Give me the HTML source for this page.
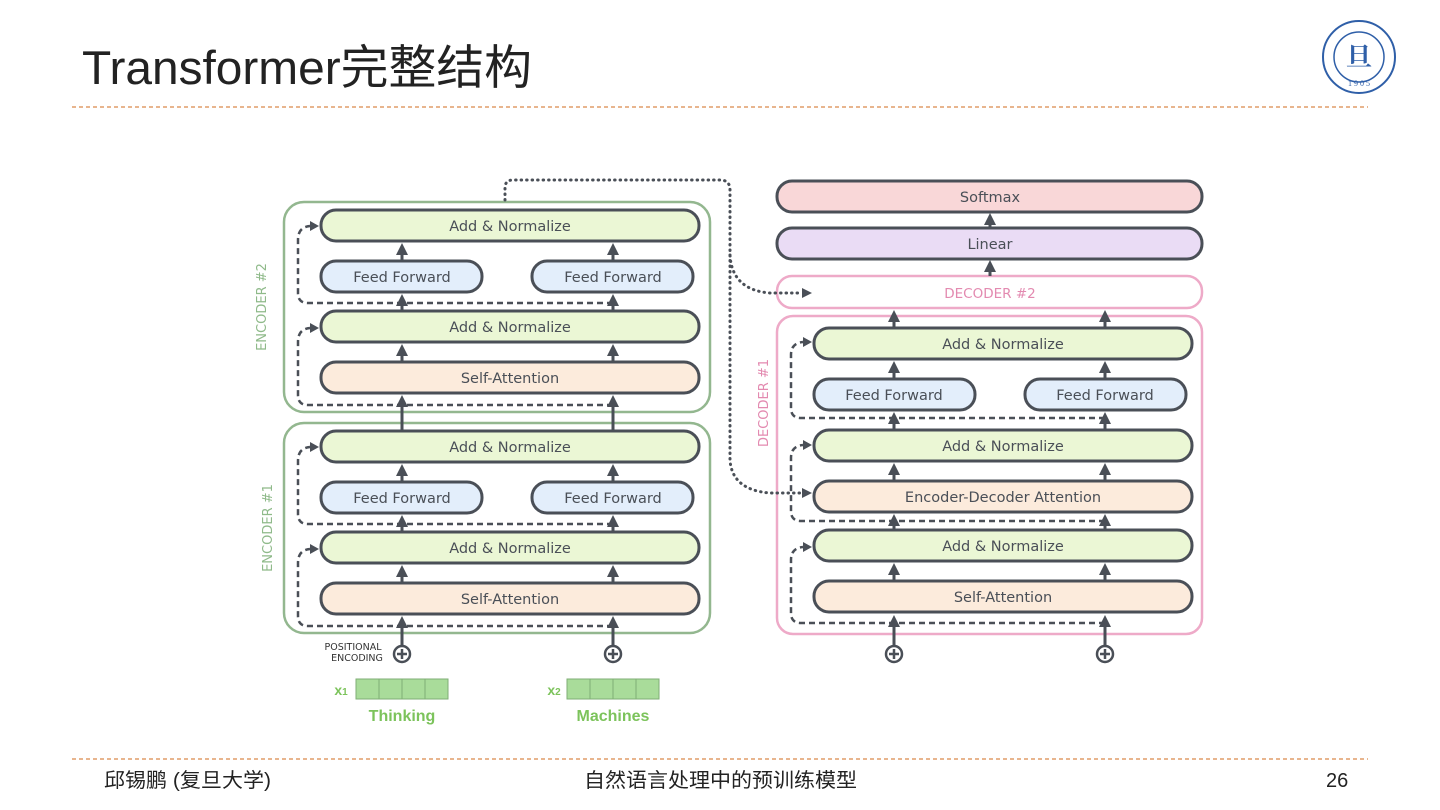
<!DOCTYPE html>
<html><head><meta charset="utf-8"><style>
html,body{margin:0;padding:0;background:#fff}
svg{display:block}
</style></head><body>
<svg width="1440" height="810" viewBox="0 0 1440 810" xmlns="http://www.w3.org/2000/svg">
<defs>
<marker id="ah" markerUnits="userSpaceOnUse" markerWidth="12" markerHeight="12" refX="6" refY="6" orient="auto">
<path d="M0,0 L12,6 L0,12 Z" fill="#4a4f57"/>
</marker>
</defs>
<text x="82" y="84" font-family="Liberation Sans, Noto Sans CJK SC, sans-serif" font-size="47" fill="#222" textLength="450" lengthAdjust="spacingAndGlyphs">Transformer完整结构</text>
<line x1="72" y1="107" x2="1368" y2="107" stroke="#d9894a" stroke-width="1.2" stroke-dasharray="4,3"/>
<line x1="72" y1="759" x2="1368" y2="759" stroke="#d9894a" stroke-width="1.2" stroke-dasharray="4,3"/>
<g font-family="Liberation Sans, Noto Sans CJK SC, sans-serif" font-size="20" fill="#222">
<text x="104" y="787" textLength="167" lengthAdjust="spacingAndGlyphs">邱锡鹏 (复旦大学)</text>
<text x="584" y="787" textLength="273" lengthAdjust="spacingAndGlyphs">自然语言处理中的预训练模型</text>
<text x="1326" y="787">26</text>
</g>
<!-- logo -->
<g fill="none" stroke="#2f5fa8">
<circle cx="1359" cy="57" r="36" stroke-width="2"/>
<circle cx="1359" cy="57" r="25" stroke-width="1.5"/>
</g>
<text x="1359" y="66" text-anchor="middle" font-family="Noto Serif CJK SC, serif" font-size="26" fill="#2f5fa8" font-weight="bold">旦</text>
<text x="1359" y="86" text-anchor="middle" font-family="Liberation Serif, serif" font-size="8" fill="#2f5fa8">1 9 0 5</text>

<g font-family="DejaVu Sans, Liberation Sans, sans-serif" font-size="14.5" fill="#4a4f57" text-anchor="middle">
<rect x="284" y="202" width="426" height="210" rx="20" fill="none" stroke="#93b78f" stroke-width="2.5"/>
<rect x="284" y="423" width="426" height="210" rx="20" fill="none" stroke="#93b78f" stroke-width="2.5"/>
<text transform="translate(266,307) rotate(-90)" fill="#8fba8a" font-size="13">ENCODER #2</text>
<text transform="translate(272,528) rotate(-90)" fill="#8fba8a" font-size="13">ENCODER #1</text>
<g stroke="#4a4f57" stroke-width="3">
<rect x="321" y="210" width="378" height="31" rx="15" fill="#ebf7d5"/>
<rect x="321" y="261" width="161" height="31" rx="15" fill="#e3eefb"/>
<rect x="532" y="261" width="161" height="31" rx="15" fill="#e3eefb"/>
<rect x="321" y="311" width="378" height="31" rx="15" fill="#ebf7d5"/>
<rect x="321" y="362" width="378" height="31" rx="15" fill="#fcebdc"/>
<rect x="321" y="431" width="378" height="31" rx="15" fill="#ebf7d5"/>
<rect x="321" y="482" width="161" height="31" rx="15" fill="#e3eefb"/>
<rect x="532" y="482" width="161" height="31" rx="15" fill="#e3eefb"/>
<rect x="321" y="532" width="378" height="31" rx="15" fill="#ebf7d5"/>
<rect x="321" y="583" width="378" height="31" rx="15" fill="#fcebdc"/>
</g>
<text x="510" y="231">Add &amp; Normalize</text>
<text x="402" y="282">Feed Forward</text>
<text x="613" y="282">Feed Forward</text>
<text x="510" y="332">Add &amp; Normalize</text>
<text x="510" y="383">Self-Attention</text>
<text x="510" y="452">Add &amp; Normalize</text>
<text x="402" y="503">Feed Forward</text>
<text x="613" y="503">Feed Forward</text>
<text x="510" y="553">Add &amp; Normalize</text>
<text x="510" y="604">Self-Attention</text>
<g stroke="#4a4f57" stroke-width="3" marker-end="url(#ah)">
<line x1="402" y1="261" x2="402" y2="249"/><line x1="613" y1="261" x2="613" y2="249"/>
<line x1="402" y1="311" x2="402" y2="300"/><line x1="613" y1="311" x2="613" y2="300"/>
<line x1="402" y1="362" x2="402" y2="350"/><line x1="613" y1="362" x2="613" y2="350"/>
<line x1="402" y1="431" x2="402" y2="401"/><line x1="613" y1="431" x2="613" y2="401"/>
<line x1="402" y1="482" x2="402" y2="470"/><line x1="613" y1="482" x2="613" y2="470"/>
<line x1="402" y1="532" x2="402" y2="521"/><line x1="613" y1="532" x2="613" y2="521"/>
<line x1="402" y1="583" x2="402" y2="571"/><line x1="613" y1="583" x2="613" y2="571"/>
<line x1="402" y1="645" x2="402" y2="622"/><line x1="613" y1="645" x2="613" y2="622"/>
</g>
<g stroke="#4a4f57" stroke-width="2.5" fill="none" stroke-dasharray="6,4">
<path d="M613,303 H308 Q298,303 298,293 V240 Q298,227 310,226"/>
<path d="M613,405 H308 Q298,405 298,395 V342 Q298,329 310,328"/>
<path d="M613,524 H308 Q298,524 298,514 V461 Q298,448 310,447"/>
<path d="M613,626 H308 Q298,626 298,616 V563 Q298,550 310,549"/>
</g>
<g fill="#4a4f57">
<path d="M319,226 l-9,-5 v10z"/><path d="M319,328 l-9,-5 v10z"/><path d="M319,447 l-9,-5 v10z"/><path d="M319,549 l-9,-5 v10z"/>
</g>
<g stroke="#4a4f57" stroke-width="2.5" fill="#fff">
<circle cx="402" cy="654" r="8"/><circle cx="613" cy="654" r="8"/>
<circle cx="894" cy="654" r="8"/><circle cx="1105" cy="654" r="8"/>
<path d="M397,654h10M402,649v10M608,654h10M613,649v10M889,654h10M894,649v10M1100,654h10M1105,649v10"/>
</g>
<text x="353" y="650" font-size="9.5" fill="#333">POSITIONAL</text>
<text x="357" y="661" font-size="9.5" fill="#333">ENCODING</text>
<g fill="#a9dc9a" stroke="#7fae75" stroke-width="1">
<rect x="356" y="679" width="23" height="20"/><rect x="379" y="679" width="23" height="20"/><rect x="402" y="679" width="23" height="20"/><rect x="425" y="679" width="23" height="20"/>
<rect x="567" y="679" width="23" height="20"/><rect x="590" y="679" width="23" height="20"/><rect x="613" y="679" width="23" height="20"/><rect x="636" y="679" width="23" height="20"/>
</g>
<g font-family="Liberation Sans, sans-serif" font-weight="bold" fill="#7cc35b">
<text x="341" y="695" font-size="14">x<tspan font-size="10">1</tspan></text>
<text x="554" y="695" font-size="14">x<tspan font-size="10">2</tspan></text>
<text x="402" y="721" font-size="16">Thinking</text>
<text x="613" y="721" font-size="16">Machines</text>
</g>

<g stroke-width="3">
<rect x="777" y="181" width="425" height="31" rx="15" fill="#f9d7d8" stroke="#4a4f57"/>
<rect x="777" y="228" width="425" height="31" rx="15" fill="#eadcf5" stroke="#4a4f57"/>
<rect x="777" y="276" width="425" height="32" rx="15" fill="#fff" stroke="#eeaac8" stroke-width="2.5"/>
<rect x="777" y="316" width="425" height="318" rx="16" fill="none" stroke="#eeaac8" stroke-width="2.5"/>
</g>
<text x="990" y="202">Softmax</text>
<text x="990" y="249">Linear</text>
<text x="990" y="298" fill="#e38ab0" font-size="13.5">DECODER #2</text>
<text transform="translate(768,403) rotate(-90)" fill="#e38ab0" font-size="13">DECODER #1</text>
<g stroke="#4a4f57" stroke-width="3">
<rect x="814" y="328" width="378" height="31" rx="15" fill="#ebf7d5"/>
<rect x="814" y="379" width="161" height="31" rx="15" fill="#e3eefb"/>
<rect x="1025" y="379" width="161" height="31" rx="15" fill="#e3eefb"/>
<rect x="814" y="430" width="378" height="31" rx="15" fill="#ebf7d5"/>
<rect x="814" y="481" width="378" height="31" rx="15" fill="#fcebdc"/>
<rect x="814" y="530" width="378" height="31" rx="15" fill="#ebf7d5"/>
<rect x="814" y="581" width="378" height="31" rx="15" fill="#fcebdc"/>
</g>
<text x="1003" y="349">Add &amp; Normalize</text>
<text x="894" y="400">Feed Forward</text>
<text x="1105" y="400">Feed Forward</text>
<text x="1003" y="451">Add &amp; Normalize</text>
<text x="1003" y="502">Encoder-Decoder Attention</text>
<text x="1003" y="551">Add &amp; Normalize</text>
<text x="1003" y="602">Self-Attention</text>
<g stroke="#4a4f57" stroke-width="3" marker-end="url(#ah)">
<line x1="990" y1="228" x2="990" y2="219"/>
<line x1="990" y1="276" x2="990" y2="266"/>
<line x1="894" y1="328" x2="894" y2="316"/><line x1="1105" y1="328" x2="1105" y2="316"/>
<line x1="894" y1="379" x2="894" y2="367"/><line x1="1105" y1="379" x2="1105" y2="367"/>
<line x1="894" y1="430" x2="894" y2="418"/><line x1="1105" y1="430" x2="1105" y2="418"/>
<line x1="894" y1="481" x2="894" y2="469"/><line x1="1105" y1="481" x2="1105" y2="469"/>
<line x1="894" y1="530" x2="894" y2="520"/><line x1="1105" y1="530" x2="1105" y2="520"/>
<line x1="894" y1="581" x2="894" y2="569"/><line x1="1105" y1="581" x2="1105" y2="569"/>
<line x1="894" y1="645" x2="894" y2="621"/><line x1="1105" y1="645" x2="1105" y2="621"/>
</g>
<g stroke="#4a4f57" stroke-width="2.5" fill="none" stroke-dasharray="6,4">
<path d="M1105,418 H801 Q791,418 791,408 V355 Q791,343 803,342"/>
<path d="M1105,521 H801 Q791,521 791,511 V458 Q791,446 803,445"/>
<path d="M1105,623 H801 Q791,623 791,613 V560 Q791,548 803,547"/>
</g>
<g fill="#4a4f57">
<path d="M812,342 l-9,-5 v10z"/><path d="M812,445 l-9,-5 v10z"/><path d="M812,547 l-9,-5 v10z"/>
<path d="M812,293 l-10,-5 v10z"/><path d="M812,493 l-10,-5 v10z"/>
</g>
<g stroke="#4a4f57" stroke-width="3" fill="none" stroke-dasharray="0.5,5" stroke-linecap="round">
<path d="M505,200 V188 Q505,180 513,180 H720 Q730,180 730,190 V255 Q732,290 770,293 H802"/>
<path d="M730,255 V460 Q732,490 770,493 H802"/>
</g>
</g>
</svg>
</body></html>
